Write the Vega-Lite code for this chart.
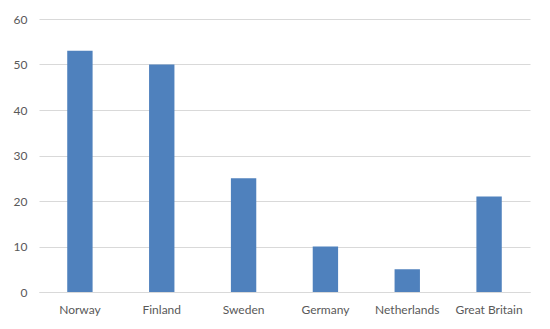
{
  "$schema": "https://vega.github.io/schema/vega-lite/v6.json",
  "width": 491,
  "height": 273,
  "autosize": {"type": "none"},
  "padding": {"left": 39, "top": 19, "right": 20, "bottom": 37},
  "background": "white",
  "config": {"view": {"stroke": null}, "font": "Lato"},
  "data": {
    "values": [
      {"country": "Norway", "value": 53},
      {"country": "Finland", "value": 50},
      {"country": "Sweden", "value": 25},
      {"country": "Germany", "value": 10},
      {"country": "Netherlands", "value": 5},
      {"country": "Great Britain", "value": 21}
    ]
  },
  "mark": {"type": "bar", "color": "#4F81BD"},
  "encoding": {
    "x": {
      "field": "country",
      "type": "nominal",
      "sort": null,
      "scale": {"paddingInner": 0.69, "paddingOuter": 0.345},
      "axis": {
        "title": null,
        "labelAngle": 0,
        "ticks": false,
        "domain": true,
        "domainColor": "#d9d9d9",
        "labelPadding": 12,
        "labelFontSize": 12,
        "labelColor": "#595959"
      }
    },
    "y": {
      "field": "value",
      "type": "quantitative",
      "scale": {"domain": [0, 60]},
      "axis": {
        "title": null,
        "values": [0, 10, 20, 30, 40, 50, 60],
        "ticks": false,
        "domain": false,
        "gridColor": "#d9d9d9",
        "labelPadding": 12,
        "labelFontSize": 12,
        "labelColor": "#595959"
      }
    }
  }
}
